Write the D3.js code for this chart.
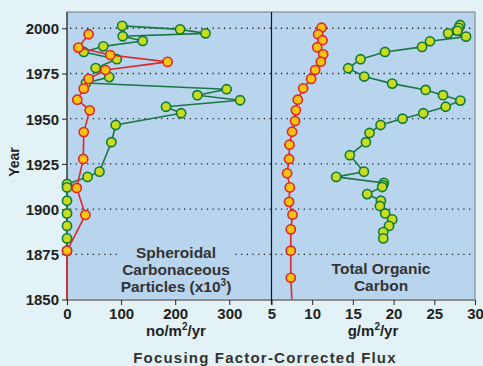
<!DOCTYPE html>
<html>
<head>
<meta charset="utf-8">
<script src="https://cdn.jsdelivr.net/npm/d3@7"></script>
<style>
  body{margin:0;background:#e2f2f7;}
  text{font-family:"Liberation Sans",Arial,sans-serif;font-weight:bold;}
</style>
</head>
<body>
<script>
// Spheroidal carbonaceous particles (x10^3 no/m2/yr) - green core
const scpGreenYears=[2001.3,1999.4,1997.2,1995.6,1993,1990,1986.9,1982.9,1978,1973,1969.7,1966.3,1963,1960.2,1956.6,1953,1946.5,1937,1920.7,1917.8,1913.9,1912,1904.6,1897.6,1890.7,1883.8,1877];
const scpGreenValues=[102,209,256,103,140,67,31,92,53,78,35,295,241,320,183,211,90,82,60,38,0,0,0,0,0,0,0];
// red core (last point is where the line runs off to the axis, no marker)
const scpRedYears=[1996.7,1989.3,1985.2,1981.4,1976.9,1972,1966.6,1960.5,1954.6,1942.6,1927.7,1911.7,1896.8,1876.9,1850];
const scpRedValues=[40,21,80,186,71,40,31,19,42,31,30,18,34,0,0];

// Total organic carbon g/m2/yr
const tocRedYears=[2000.3,1996.7,1993.4,1989.5,1985.6,1981.5,1976.9,1972,1966.8,1960.5,1954.6,1948.7,1942.8,1935.6,1927.7,1919.8,1912,1904,1896.9,1888.8,1877,1862,1850];
const tocRedValues=[11.15,10.73,11.27,10.61,11.35,11.06,10.37,9.87,8.89,8.23,7.99,7.9,7.53,7.21,7.16,6.92,7.25,7.16,7.58,7.37,7.37,7.37,7.5];
const tocGreenYears=[2001.8,2000.2,1998.6,1997.2,1995.4,1992.8,1989.7,1986.9,1982.9,1977.9,1973.3,1969.4,1965.9,1963,1960,1956.6,1953,1950,1946.5,1942.1,1937,1929.8,1920.7,1917.8,1914.5,1913.3,1912.2,1908.3,1904.6,1901.7,1897.6,1894.3,1890.7,1887.3,1883.8];
const tocGreenValues=[28.16,28.0,27.85,26.7,28.9,24.47,23.5,18.94,15.94,14.42,16.39,19.83,23.94,26.07,28.2,26.4,23.65,21.1,18.4,17.05,16.6,14.63,16.35,12.95,18.8,18.7,18.6,16.76,18.44,18.32,18.97,19.83,19.44,18.73,18.73];

const yearTicks=[1850,1875,1900,1925,1950,1975,2000];
const scpTicks=[0,100,200,300];
const tocTicks=[5,10,15,20,25,30];

const W=483,H=366;
const pLeft=67,pMid=271.5,pRight=475,pTop=12,pBottom=299.5;

const svg=d3.select('body').append('svg').attr('width',W).attr('height',H);

const y=d3.scaleLinear().domain([1850,2009]).range([pBottom,pTop]);
const xL=d3.scaleLinear().domain([0,378]).range([pLeft,pMid]);
const xR=d3.scaleLinear().domain([5,30]).range([pMid,pRight]);

// plot background
svg.append('rect').attr('x',pLeft).attr('y',pTop).attr('width',pRight-pLeft).attr('height',pBottom-pTop)
  .attr('fill','#b9d5ee').attr('stroke','#7a7a7a').attr('stroke-width',1);

// dotted gridlines
svg.selectAll('line.grid').data(yearTicks.filter(d=>d>1850)).enter().append('line')
  .attr('class','grid')
  .attr('x1',pLeft+3).attr('x2',pRight-2)
  .attr('y1',d=>y(d)).attr('y2',d=>y(d))
  .attr('stroke','#222').attr('stroke-width',1.3).attr('stroke-dasharray','1.3,4.4');

// panel labels, with a background patch so the dots break behind them
function panelLabel(lines,cx,y0){
  const g=svg.append('g');
  const bg=g.append('rect').attr('fill','#b9d5ee');
  const t=g.append('text').attr('text-anchor','middle').attr('fill','#333').style('font-size','15.5px');
  lines.forEach((l,i)=>{
    const ts=t.append('tspan').attr('x',cx).attr('y',y0+i*16.8);
    if(typeof l==='object'){
      ts.append('tspan').text(l.text);
      ts.append('tspan').attr('dy',-6).style('font-size','10px').text(l.exp);
      ts.append('tspan').attr('dy',6).text(l.after);
    } else ts.text(l);
  });
  const bb=t.node().getBBox();
  bg.attr('x',bb.x-2).attr('y',bb.y).attr('width',bb.width+4).attr('height',bb.height);
}
panelLabel(['Spheroidal','Carbonaceous',{text:'Particles (x10',exp:'3',after:')'}],176,258);
panelLabel(['Total Organic','Carbon'],381,274);

// bottom shadow edge and axes
svg.append('line').attr('x1',pLeft).attr('x2',pRight).attr('y1',pBottom+0.5).attr('y2',pBottom+0.5)
  .attr('stroke','#8c8c8c').attr('stroke-width',2);

const yAxis=svg.append('g').attr('transform','translate('+pLeft+',0)')
  .call(d3.axisLeft(y).tickValues(yearTicks).tickSize(5).tickPadding(3).tickFormat(d3.format('d')));
const xAxisL=svg.append('g').attr('transform','translate(0,'+(pBottom+0.5)+')')
  .call(d3.axisBottom(xL).tickValues(scpTicks).tickSize(5).tickPadding(3));
const xAxisR=svg.append('g').attr('transform','translate(0,'+(pBottom+0.5)+')')
  .call(d3.axisBottom(xR).tickValues(tocTicks).tickSize(5).tickPadding(3));
[yAxis,xAxisL,xAxisR].forEach(a=>{
  a.select('.domain').remove();
  a.selectAll('text').style('font-size','15px').style('font-family','"Liberation Sans",Arial,sans-serif')
   .style('font-weight','bold').attr('fill','#222');
  a.selectAll('line').attr('stroke','#222');
});
yAxis.selectAll('text').attr('dy','0.36em');

// left axis line and panel divider
svg.append('line').attr('x1',pLeft).attr('x2',pLeft).attr('y1',pTop).attr('y2',pBottom+1).attr('stroke','#333').attr('stroke-width',1.2);
svg.append('line').attr('x1',pMid).attr('x2',pMid).attr('y1',pTop).attr('y2',pBottom+5).attr('stroke','#111').attr('stroke-width',1.2);

// series
function series(xs,ys,xScale,lineCol,fill,stroke,lastNoMarker){
  const pts=xs.map((v,i)=>({v:v,yr:ys[i]}));
  const line=d3.line().x(d=>xScale(d.v)).y(d=>y(d.yr));
  svg.append('path').datum(pts).attr('d',line).attr('fill','none')
    .attr('stroke',lineCol).attr('stroke-width',1.6);
  const m=lastNoMarker?pts.slice(0,-1):pts;
  svg.append('g').selectAll('circle').data(m).enter().append('circle')
    .attr('cx',d=>xScale(d.v)).attr('cy',d=>y(d.yr)).attr('r',4.6)
    .attr('fill',fill).attr('stroke',stroke).attr('stroke-width',1.6);
}
const greenLine='#1b7745',greenFill='#cbdc1e',greenStroke='#0f7a3a';
const redLine='#d8292e',redFill='#ffc20e',redStroke='#d8292e';

series(scpGreenValues,scpGreenYears,xL,greenLine,greenFill,greenStroke,false);
series(scpRedValues,scpRedYears,xL,redLine,redFill,redStroke,true);
series(tocGreenValues,tocGreenYears,xR,greenLine,greenFill,greenStroke,false);
series(tocRedValues,tocRedYears,xR,redLine,redFill,redStroke,true);

// axis titles
svg.append('text').attr('x',176).attr('y',336).attr('text-anchor','middle').attr('fill','#222')
  .style('font-size','15px').html('no/m<tspan dy="-6" font-size="10px">2</tspan><tspan dy="6">/yr</tspan>');
svg.append('text').attr('x',373).attr('y',336).attr('text-anchor','middle').attr('fill','#222')
  .style('font-size','15px').html('g/m<tspan dy="-6" font-size="10px">2</tspan><tspan dy="6">/yr</tspan>');
svg.append('text').attr('x',265).attr('y',363).attr('text-anchor','middle').attr('fill','#333')
  .style('font-size','15px').style('letter-spacing','1.2px').text('Focusing Factor-Corrected Flux');
svg.append('text').attr('transform','translate(19,162) rotate(-90)').attr('text-anchor','middle')
  .attr('fill','#222').style('font-size','14px').text('Year');
</script>
</body>
</html>
